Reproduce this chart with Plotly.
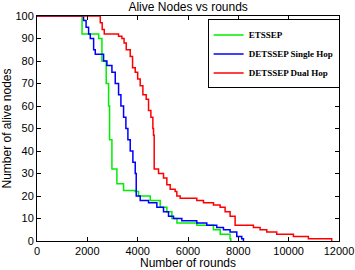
import plotly.graph_objects as go

etssep_x = [0, 1650, 1790, 2320, 2450, 2580, 2750, 2845, 2884, 2977, 3175, 3440, 3900, 4035, 4500, 4895, 5160, 5360, 5560, 6350, 7010, 7280, 7540, 7670, 7700]
etssep_y = [100, 100, 92, 92, 90, 80, 70, 60, 45, 32, 25.5, 22.5, 22, 20, 18, 15, 13, 10, 8, 7, 5, 3, 3, 1, 0]

single_x = [0, 1720, 1850, 1950, 2050, 2117, 2250, 2315, 2514, 2646, 2778, 2977, 3109, 3241, 3334, 3440, 3532, 3612, 3704, 3810, 3903, 3943, 4101, 4432, 4763, 5027, 5226, 5424, 5755, 6350, 6747, 7144, 7409, 7673, 7938, 8136, 8203]
single_y = [100, 100, 98, 95, 92, 90, 85, 83, 83, 80, 78, 75, 70, 65, 60, 55, 50, 45, 40, 35, 30, 20, 18, 17, 15, 13, 11, 10, 9, 8, 7, 6, 5, 4, 2, 1, 0]

dual_x = [0, 2448, 2514, 2590, 2672, 3109, 3240, 3374, 3460, 3546, 3704, 3797, 3903, 4000, 4101, 4207, 4339, 4432, 4525, 4604, 4630, 4657, 4829, 5027, 5160, 5292, 5490, 5556, 5689, 6086, 6350, 6615, 7012, 7276, 7475, 7673, 7872, 8335, 8600, 8865, 9130, 9527, 10188, 10783, 11709]
dual_y = [100, 100, 97, 94, 92, 92, 91, 90, 88, 85, 82, 77, 75, 72, 69, 65, 63, 58, 55, 50, 47, 32, 30, 28, 25, 23, 22, 20, 19, 19, 18, 17, 16, 15, 13, 11, 7, 7, 6, 5, 4, 3, 2, 1, 0]

x_ticks = [0, 2000, 4000, 6000, 8000, 10000, 12000]
x_tick_labels = ["0", "2000", "4000", "6000", "8000", "10000", "12000"]
y_ticks = [0, 10, 20, 30, 40, 50, 60, 70, 80, 90, 100]

series = [
    ("ETSSEP", etssep_x, etssep_y, "#00ee00"),
    ("DETSSEP Single Hop", single_x, single_y, "#0000ff"),
    ("DETSSEP Dual Hop", dual_x, dual_y, "#ff0000"),
]

fig = go.Figure()
for name, xs, ys, col in series:
    fig.add_trace(go.Scatter(x=xs, y=ys, mode="lines", name=name,
                             line=dict(color=col, width=1.5, shape="hv")))

axis_common = dict(showgrid=False, zeroline=False, showline=True, linecolor="black",
                   linewidth=1, mirror="ticks", ticks="inside", ticklen=4,
                   tickcolor="black", automargin=False,
                   tickfont=dict(family="Arial", size=11, color="black"))

fig.update_layout(
    width=355, height=270,
    margin=dict(l=37, r=16, t=16, b=29),
    paper_bgcolor="white", plot_bgcolor="white",
    title=dict(text="Alive Nodes vs rounds", x=0.53, xanchor="center", y=0.99, yanchor="top",
               font=dict(family="Arial", size=12, color="black")),
    xaxis=dict(range=[0, 12000], tickvals=x_ticks, ticktext=x_tick_labels,
               title=dict(text="Number of rounds", standoff=2,
                          font=dict(family="Arial", size=12, color="black")),
               **axis_common),
    yaxis=dict(range=[0, 100], tickvals=y_ticks,
               title=dict(text="Number of alive nodes", standoff=2,
                          font=dict(family="Arial", size=12, color="black")),
               **axis_common),
    legend=dict(x=0.565, y=0.985, xanchor="left", yanchor="top",
                bgcolor="white", bordercolor="black", borderwidth=1,
                font=dict(family="Liberation Serif", size=9, color="black", weight="bold"),
                tracegroupgap=0, itemwidth=30),
    showlegend=True,
)

fig.write_html("out.html", config={"displayModeBar": False},
               post_script="document.body.style.margin='0';document.body.style.overflow='hidden';")
